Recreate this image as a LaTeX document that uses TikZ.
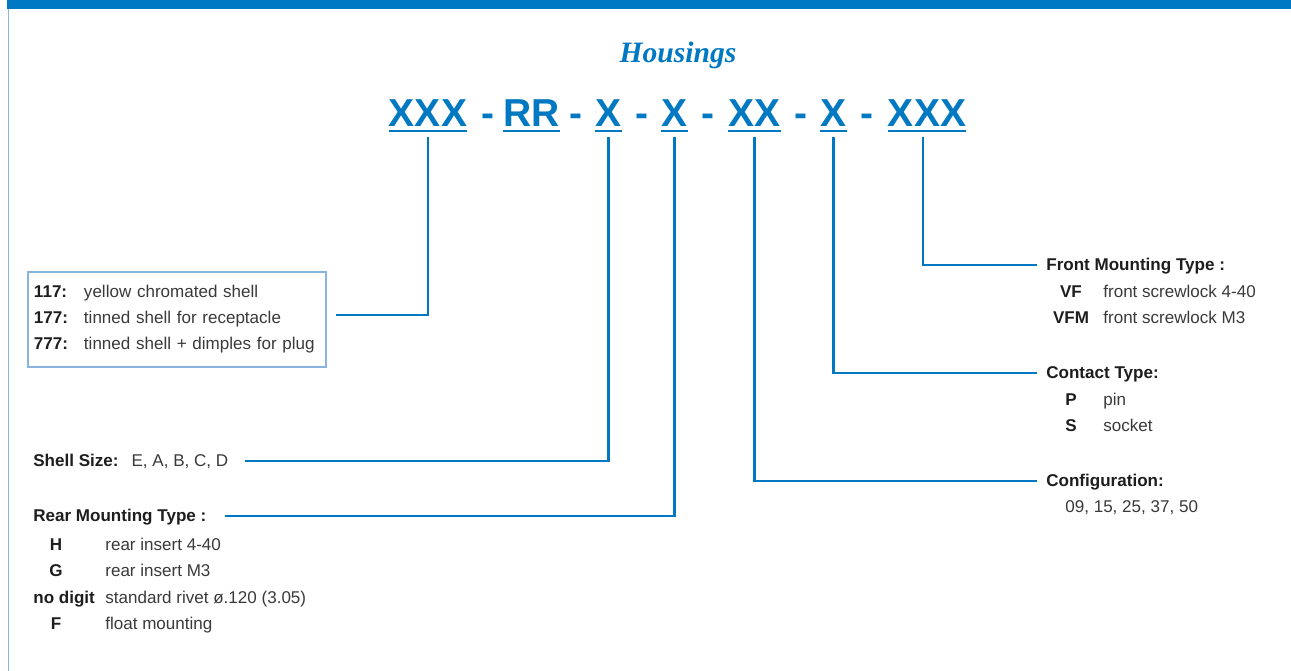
\documentclass[tikz,border=0pt]{standalone}
\usepackage{fontspec}
\setmainfont{Liberation Sans}
\newfontfamily\titlefont{Liberation Serif}
\usepackage{xcolor}
\usetikzlibrary{positioning}

\definecolor{hsgblue}{HTML}{0079C2}
\definecolor{frameblue}{HTML}{8AB4E0}
\definecolor{txtgray}{HTML}{3A3A3A}
\definecolor{keyblack}{HTML}{1E1E1E}
\newcommand{\bodyfont}{\fontsize{9.7}{14.8}\selectfont}

\tikzset{
  code/.style={font=\fontsize{22.2}{26}\selectfont\bfseries, text=hsgblue, inner sep=0pt, anchor=base},
  uline/.style={draw=hsgblue, line width=0.05cm},
  link/.style={draw=hsgblue, line width=0.05cm},
  head/.style={font=\bodyfont\bfseries, text=keyblack, inner sep=0pt, text height=0.24cm, text depth=0pt, anchor=base west},
  key/.style={font=\bodyfont\bfseries, text=keyblack, inner sep=0pt, anchor=base},
  desc/.style={font=\bodyfont, text=txtgray, inner sep=0pt, anchor=base west},
  finbox/.style={draw=frameblue, line width=0.04cm, anchor=north west, font=\bodyfont, text=txtgray,
    inner xsep=0.12cm, inner ysep=0pt, text width=5.72cm, minimum height=1.9cm, align=left}
}

\begin{document}
\begin{tikzpicture}[x=0.02cm, y=-0.02cm]
  % page and frame
  \fill[white] (0,0) rectangle (1291,671);
  \useasboundingbox (0,0) rectangle (1291,671);
  \fill[hsgblue] (7,0) rectangle (1291,9);
  \draw[frameblue, line width=0.04cm] (8.5,9) -- (8.5,671);

  % title and part number
  \node[font=\titlefont\fontsize{16.85}{20}\selectfont\bfseries\itshape, text=hsgblue, anchor=base] (title) at (678,63) {Housings};
  \node[code] (gfinish) at (428,127) {XXX};
  \node[code] (grr) at (531.5,127) {RR};
  \node[code] (gsize) at (608.5,127) {X};
  \node[code] (grear) at (674.5,127) {X};
  \node[code] (gconf) at (754.5,127) {XX};
  \node[code] (gcontact) at (833.5,127) {X};
  \node[code] (gfront) at (927,127) {XXX};
  \foreach \x [count=\i] in {488,575.5,641.5,708,800.5,866.5}
    \node[code] (dash\i) at (\x,127) {-};
  \foreach \g in {gfinish,grr,gsize,grear,gconf,gcontact,gfront}
    \draw[uline] ([yshift=-0.08cm]\g.base west) -- ([yshift=-0.08cm]\g.base east);

  % left side
  \node[finbox] (finish) at (27,271) {%
    \makebox[1cm][l]{\textbf{\color{keyblack}117:}}yellow chromated shell\\
    \makebox[1cm][l]{\textbf{\color{keyblack}177:}}tinned shell for receptacle\\
    \makebox[1cm][l]{\textbf{\color{keyblack}777:}}tinned shell + dimples for plug};
  \node[head] (shell) at (33,467) {Shell Size:\hspace{0.26cm}\mdseries\color{txtgray}E, A, B, C, D};
  \node[head] (rear) at (33,522) {Rear Mounting Type :};
  \node[key] (rh) at (56,551) {H};
  \node[desc] (rhdesc) at (105,551) {rear insert 4-40};
  \node[key] (rg) at (56,577) {G};
  \node[desc] (rgdesc) at (105,577) {rear insert M3};
  \node[key, anchor=base west] (rnone) at (33,603) {no digit};
  \node[desc] (rnonedesc) at (105,603) {standard rivet ø.120 (3.05)};
  \node[key] (rf) at (56,629) {F};
  \node[desc] (rfdesc) at (105,629) {float mounting};

  % right side
  \node[head] (front) at (1046,271) {Front Mounting Type :};
  \node[key] (vf) at (1071,298) {VF};
  \node[desc] (vfdesc) at (1103,298) {front screwlock 4-40};
  \node[key] (vfm) at (1071,324) {VFM};
  \node[desc] (vfmdesc) at (1103,324) {front screwlock M3};
  \node[head] (contact) at (1046,379) {Contact Type:};
  \node[key] (cp) at (1071,406) {P};
  \node[desc] (cpdesc) at (1103,406) {pin};
  \node[key] (cs) at (1071,432) {S};
  \node[desc] (csdesc) at (1103,432) {socket};
  \node[head] (conf) at (1046,487) {Configuration:};
  \node[desc] (confvals) at (1065,513) {09, 15, 25, 37, 50};

  % connectors
  \draw[link] ([yshift=-0.2cm]gfinish.base) |- ([xshift=0.18cm,yshift=0.09cm]finish.east);
  \draw[link] ([yshift=-0.2cm]gsize.base) |- ([xshift=0.32cm]shell.east);
  \draw[link] ([yshift=-0.2cm]grear.base) |- ([xshift=0.36cm]rear.east);
  \draw[link] ([yshift=-0.2cm]gconf.base) |- ([xshift=-0.18cm]conf.west);
  \draw[link] ([yshift=-0.2cm]gcontact.base) |- ([xshift=-0.18cm]contact.west);
  \draw[link] ([xshift=-0.08cm,yshift=-0.2cm]gfront.base) |- ([xshift=-0.18cm]front.west);
\end{tikzpicture}
\end{document}
